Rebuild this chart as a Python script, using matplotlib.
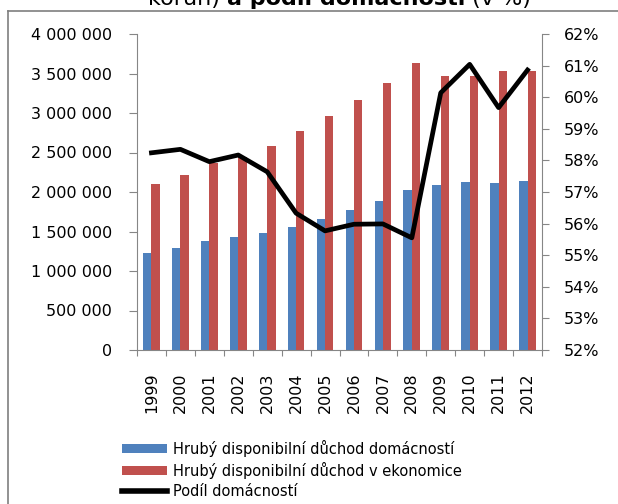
import matplotlib
matplotlib.use("Agg")
import matplotlib.pyplot as plt
import numpy as np
from matplotlib.ticker import FuncFormatter, FixedLocator
from matplotlib.lines import Line2D
from matplotlib.patches import Patch

years = ["1999", "2000", "2001", "2002", "2003", "2004", "2005",
         "2006", "2007", "2008", "2009", "2010", "2011", "2012"]
households = [1232000, 1295000, 1380000, 1426000, 1477000, 1557000, 1654000,
              1768000, 1882000, 2025000, 2093000, 2122000, 2110000, 2143000]
economy = [2105000, 2219000, 2371000, 2447000, 2578000, 2776000, 2966000,
           3160000, 3375000, 3633000, 3472000, 3472000, 3535000, 3535000]
share = [58.24, 58.35, 57.96, 58.17, 57.64, 56.33, 55.77,
         55.98, 55.99, 55.55, 60.14, 61.04, 59.67, 60.86]

label_hh = "Hrubý disponibilní důchod domácností"
label_ec = "Hrubý disponibilní důchod v ekonomice"
label_sh = "Podíl domácností"

BLUE = "#4F81BD"
RED = "#C0504D"
AXC = "#868686"
FONT = "DejaVu Sans"
TS = 11.5

plt.rcParams['font.family'] = [FONT]

fig = plt.figure(figsize=(6.18, 5.04), dpi=100)
ax = fig.add_axes([137/618, 1-350/504, (542-137)/618, (350-34)/504])

x = np.arange(len(years))
w = 0.29
ax.bar(x - w/2, households, width=w, color=BLUE, zorder=2)
ax.bar(x + w/2, economy, width=w, color=RED, zorder=2)
ax.set_xlim(-0.5, len(years) - 0.5)
ax.set_ylim(0, 4000000)
ax.set_yticks(np.arange(0, 4000001, 500000))
ax.yaxis.set_major_formatter(FuncFormatter(lambda v, p: f"{int(v):,}".replace(",", " ")))

ax.xaxis.set_major_locator(FixedLocator(np.arange(-0.5, len(years), 1.0)))
ax.xaxis.set_major_formatter(FuncFormatter(lambda v, p: ""))
ax.set_xticks(x, minor=True)
ax.set_xticklabels(years, minor=True, rotation=90, fontsize=TS, va="top")
ax.tick_params(axis="x", which="minor", length=0, pad=16)
ax.tick_params(axis="x", which="major", length=4, color=AXC, direction="out")
ax.tick_params(axis="y", length=6, color=AXC, pad=12, labelsize=TS)

for s in ["top", "right"]:
    ax.spines[s].set_visible(False)
for s in ["left", "bottom"]:
    ax.spines[s].set_color(AXC)

ax2 = ax.twinx()
ax2.plot(x, share, color="black", linewidth=3.4, solid_joinstyle="round", zorder=3)
ax2.set_ylim(52, 62)
ax2.set_yticks(np.arange(52, 62.5, 1))
ax2.yaxis.set_major_formatter(FuncFormatter(lambda v, p: f"{int(round(v))}%"))
ax2.tick_params(axis="y", length=5, color=AXC, pad=11, labelsize=TS)
for s in ["top", "left", "bottom"]:
    ax2.spines[s].set_visible(False)
ax2.spines["right"].set_color(AXC)

handles = [Patch(facecolor=BLUE, edgecolor="none"),
           Patch(facecolor=RED, edgecolor="none"),
           Line2D([0], [0], color="black", linewidth=4)]
fig.legend(handles, [label_hh, label_ec, label_sh], loc="upper left",
           bbox_to_anchor=(122/618, 1-440/504), frameon=False,
           fontsize=10.5, handlelength=3.1, handleheight=0.55,
           handletextpad=0.4, labelspacing=0.33, borderpad=0, borderaxespad=0)

# Title (cut off at the top edge, as in the source image)
TY = 1 - 5/504
t1 = fig.text(148/618, TY, "korun) ", fontsize=16, ha="left", va="baseline")
fig.canvas.draw()
r = fig.canvas.get_renderer()
bb = t1.get_window_extent(r)
t2 = fig.text(bb.x1/618, TY, "a podíl domácností", fontsize=16,
              fontweight="bold", ha="left", va="baseline")
bb2 = t2.get_window_extent(r)
fig.text(bb2.x1/618, TY, " (v %)", fontsize=16, ha="left", va="baseline")

# Frame border
fig.add_artist(Line2D([8/618, 8/618], [0, 1-11/504], transform=fig.transFigure,
                      color="#7F7F7F", linewidth=1.2))
fig.add_artist(Line2D([8/618, 1], [1-11/504, 1-11/504], transform=fig.transFigure,
                      color="#7F7F7F", linewidth=1.2))

fig.savefig("out.png", dpi=100)
